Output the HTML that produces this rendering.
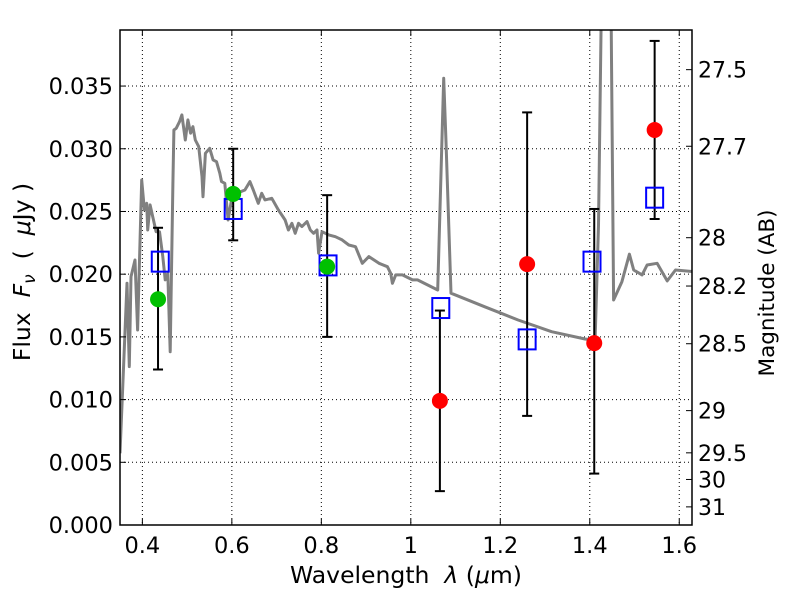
<!DOCTYPE html>
<html><head><meta charset="utf-8">
<style>
html,body{margin:0;padding:0;background:#fff;}
svg{display:block;font-family:"DejaVu Sans","Liberation Sans",sans-serif;}
</style></head>
<body>
<svg id="chart" width="800" height="600" viewBox="0 0 800 600" xmlns="http://www.w3.org/2000/svg">
<defs><clipPath id="plotclip"><rect x="120" y="30" width="572" height="495"/></clipPath></defs>
<rect x="0" y="0" width="800" height="600" fill="#fff"/>
<g id="grid"></g>
<g id="spec" clip-path="url(#plotclip)"></g>
<g id="marks" clip-path="url(#plotclip)"></g>
<g id="axes"></g>
<text x="406" y="583" font-size="23.5" text-anchor="middle">Wavelength&#160;&#160;<tspan font-style="italic">λ</tspan> (<tspan font-style="italic">μ</tspan>m)</text>
<text transform="translate(30,272) rotate(-90)" font-size="23.5" text-anchor="middle">Flux&#160;&#160;<tspan font-style="italic">F</tspan><tspan font-style="italic" font-size="17" dy="5">ν</tspan><tspan dy="-5">&#160;&#160;(&#160;&#160;</tspan><tspan font-style="italic">μ</tspan>Jy&#160;)</text>
<text transform="translate(774,293) rotate(-90)" font-size="21.5" text-anchor="middle">Magnitude (AB)</text>
</svg>
<script>
const xTicks=[0.4,0.6,0.8,1.0,1.2,1.4,1.6];
const xTickLabels=["0.4","0.6","0.8","1","1.2","1.4","1.6"];
const yTicks=[0,0.005,0.010,0.015,0.020,0.025,0.030,0.035];
const yTickLabels=["0.000","0.005","0.010","0.015","0.020","0.025","0.030","0.035"];
const magTicks=[27.5,27.7,28,28.2,28.5,29,29.5,30,31];
const magTickLabels=["27.5","27.7","28","28.2","28.5","29","29.5","30","31"];
const specWave=[0.35,0.3656,0.3708,0.3746,0.3836,0.3894,0.3985,0.4045,0.4097,0.412,0.4173,0.4232,0.4307,0.4382,0.4457,0.451,0.4569,0.4622,0.4682,0.4704,0.4757,0.4831,0.4884,0.496,0.5018,0.5079,0.513,0.5184,0.5258,0.5333,0.5355,0.5409,0.5506,0.558,0.5656,0.573,0.5768,0.5843,0.5917,0.5993,0.6106,0.6292,0.6404,0.6479,0.6591,0.6667,0.6742,0.6892,0.704,0.7117,0.7191,0.7265,0.7342,0.7416,0.749,0.7566,0.7679,0.7753,0.7827,0.7903,0.7939,0.8016,0.8164,0.8315,0.8465,0.8613,0.8764,0.8915,0.9063,0.9288,0.9476,0.955,0.9589,0.9663,0.9813,1.0038,1.015,1.06,1.0735,1.0787,1.0899,1.1647,1.2398,1.3146,1.3894,1.4119,1.4196,1.4254,1.433,1.4479,1.4533,1.4719,1.4885,1.4982,1.5169,1.5281,1.5506,1.573,1.5917,1.633];
const specFlux=[0.00572,0.01927,0.01263,0.0198,0.02113,0.01555,0.02751,0.02512,0.02565,0.02352,0.02552,0.02459,0.02339,0.02339,0.0214,0.01954,0.02007,0.01382,0.02725,0.0315,0.03163,0.03216,0.0327,0.0307,0.0323,0.03124,0.03176,0.0307,0.03017,0.02778,0.02618,0.02964,0.03004,0.02911,0.02897,0.02805,0.02738,0.02725,0.02432,0.02592,0.02645,0.02671,0.02738,0.02671,0.02565,0.02645,0.02592,0.02605,0.02512,0.02472,0.02432,0.02352,0.02406,0.02326,0.02406,0.02379,0.02419,0.02352,0.02326,0.02352,0.02167,0.02339,0.02313,0.02299,0.02273,0.02233,0.02219,0.02087,0.0214,0.02087,0.0206,0.02007,0.01927,0.01994,0.01994,0.01954,0.01954,0.01874,0.03562,0.03057,0.01848,0.01741,0.01635,0.01541,0.01483,0.01475,0.02392,0.0399,0.06,0.0399,0.01794,0.0194,0.02159,0.02033,0.01994,0.02073,0.02087,0.01946,0.02033,0.0202];
const greenWave=[0.435,0.603,0.813];
const greenFlux=[0.0180,0.0264,0.0206];
const greenLo=[0.0124,0.0227,0.0150];
const greenHi=[0.0237,0.0300,0.0263];
const redWave=[1.065,1.26,1.41,1.545];
const redFlux=[0.0099,0.0208,0.0145,0.0315];
const redLo=[0.0027,0.0087,0.0041,0.0244];
const redHi=[0.0171,0.0329,0.0252,0.0386];
const modelWave=[0.44,0.603,0.815,1.067,1.26,1.405,1.545];
const modelFlux=[0.0210,0.0252,0.0207,0.0173,0.0148,0.0210,0.0261];

const X0=120,X1=692,Y0=525,Y1=30,XMIN=0.35,XMAX=1.6285,YMIN=0,YMAX=0.03947;
function sx(v){return X0+(v-XMIN)/(XMAX-XMIN)*(X1-X0);}
function sy(v){return Y0-(v-YMIN)/(YMAX-YMIN)*(Y0-Y1);}
function magToFlux(m){return Math.pow(10,(23.9-m)/2.5);}
const NS="http://www.w3.org/2000/svg";
function mk(tag,attrs,parent){const e=document.createElementNS(NS,tag);for(const k in attrs)e.setAttribute(k,attrs[k]);parent.appendChild(e);return e;}
const grid=document.getElementById('grid'),axes=document.getElementById('axes'),spec=document.getElementById('spec'),marks=document.getElementById('marks');

xTicks.forEach((t,i)=>{const x=sx(t);
 const g=mk('line',{x1:x,x2:x,y1:Y1,y2:Y0,stroke:'#000','stroke-width':1,'stroke-dasharray':'1,3'},grid);
 
 
 const tk=mk('line',{x1:x,x2:x,y1:Y0,y2:Y0-6,stroke:'#000','stroke-width':1},axes);
 
 
 const tk2=mk('line',{x1:x,x2:x,y1:Y1,y2:Y1+6,stroke:'#000','stroke-width':1},axes);
 
 
 const lb=mk('text',{x:x,y:Y0+28,'font-size':22.5,'text-anchor':'middle'},axes);lb.textContent=xTickLabels[i];
 
 
});
yTicks.forEach((t,i)=>{const y=sy(t);
 const g=mk('line',{x1:X0,x2:X1,y1:y,y2:y,stroke:'#000','stroke-width':1,'stroke-dasharray':'1,3'},grid);
 
 
 const tk=mk('line',{x1:X0,x2:X0+6,y1:y,y2:y,stroke:'#000','stroke-width':1},axes);
 
 
 const lb=mk('text',{x:X0-7,y:y+8,'font-size':22.5,'text-anchor':'end'},axes);lb.textContent=yTickLabels[i];
 
 
});
magTicks.forEach((m,i)=>{const y=sy(magToFlux(m));
 const tk=mk('line',{x1:X1,x2:X1-6,y1:y,y2:y,stroke:'#000','stroke-width':1},axes);
 
 
 const lb=mk('text',{x:X1+6,y:y+8,'font-size':22,'text-anchor':'start'},axes);lb.textContent=magTickLabels[i];
 
 
});
const frame=mk('rect',{x:X0,y:Y1,width:X1-X0,height:Y0-Y1,fill:'none',stroke:'#000','stroke-width':1.5},axes);



let d='';specWave.forEach((w,i)=>{d+=(i?'L':'M')+sx(w).toFixed(1)+','+sy(specFlux[i]).toFixed(1);});
const sp=mk('path',{d:d,fill:'none',stroke:'#808080','stroke-width':3,'stroke-linejoin':'round'},spec);



function errbar(w,lo,hi){const x=sx(w);
 const l=mk('line',{x1:x,x2:x,y1:sy(lo),y2:sy(hi),stroke:'#000','stroke-width':2},marks);
 
 
 [lo,hi].forEach(v=>{const c=mk('line',{x1:x-5,x2:x+5,y1:sy(v),y2:sy(v),stroke:'#000','stroke-width':2},marks);
  
  });
}
greenWave.forEach((w,i)=>errbar(w,greenLo[i],greenHi[i]));
redWave.forEach((w,i)=>errbar(w,redLo[i],redHi[i]));
modelWave.forEach((w,i)=>{const x=sx(w),y=sy(modelFlux[i]);
 const r=mk('rect',{x:x-8.5,y:y-10,width:17,height:20,fill:'none',stroke:'#0000ff','stroke-width':2},marks);
 
 
});
greenWave.forEach((w,i)=>{
 const c=mk('circle',{cx:sx(w),cy:sy(greenFlux[i]),r:8,fill:'#00c000'},marks);
 
 
});
redWave.forEach((w,i)=>{
 const c=mk('circle',{cx:sx(w),cy:sy(redFlux[i]),r:8,fill:'#ff0000'},marks);
 
 
});
</script>
</body></html>
